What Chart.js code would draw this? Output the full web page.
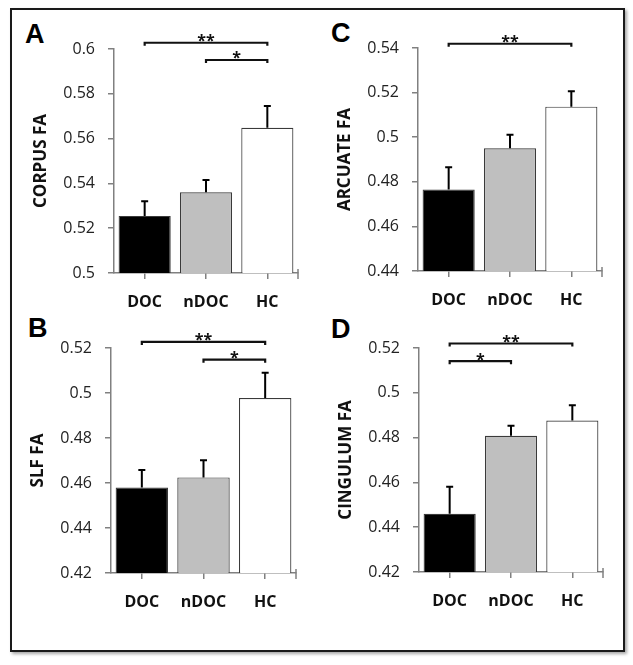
<!DOCTYPE html>
<html>
<head>
<meta charset="utf-8">
<script src="https://cdn.jsdelivr.net/npm/chart.js@4"></script>
<style>
body { margin: 0; background: #fff; }
#marco { position: absolute; left: 10px; top: 8px; width: 611px; height: 640px; border: 2px solid #1a1a1a; box-shadow: 2px 2px 3px rgba(0,0,0,.35); }
canvas { position: absolute; }
.letra { position: absolute; font: bold 27px "Liberation Sans", Arial, sans-serif; line-height: 27px; color: #000; }
</style>
</head>
<body>
<div id="marco"></div>
<div class="letra" style="left:25px;top:21px">A</div>
<div class="letra" style="left:331px;top:20px">C</div>
<div class="letra" style="left:28px;top:315px">B</div>
<div class="letra" style="left:331px;top:316px">D</div>
<canvas id="panelA"></canvas>
<canvas id="panelC"></canvas>
<canvas id="panelB"></canvas>
<canvas id="panelD"></canvas>
<script>
var grupos = ['DOC', 'nDOC', 'HC'];
var coloresBarras = ['#000000', '#bfbfbf', '#ffffff'];

// valores medios, error (solo hacia arriba) y comparaciones significativas
var corpusFA = [0.5255, 0.536, 0.5648];
var corpusErr = [0.0065, 0.0055, 0.0097];
var corpusSig = [[0, 2, 0.6028, '**'], [1, 2, 0.5951, '*']];

var arcuateFA = [0.4766, 0.495, 0.5137];
var arcuateErr = [0.0099, 0.0061, 0.0069];
var arcuateSig = [[0, 2, 0.5419, '**']];

var slfFA = [0.458, 0.4625, 0.4978];
var slfErr = [0.0078, 0.0076, 0.0112];
var slfSig = [[0, 2, 0.5227, '**'], [1, 2, 0.5148, '*']];

var cingulumFA = [0.446, 0.4808, 0.4876];
var cingulumErr = [0.0121, 0.0045, 0.0068];
var cingulumSig = [[0, 2, 0.522, '**'], [0, 1, 0.5141, '*']];

var paneles = [
    {id: 'panelA', titulo: 'CORPUS FA', min: 0.5, max: 0.6, valores: corpusFA, errores: corpusErr, sig: corpusSig,
        area: {left: 114, top: 49, right: 298, bottom: 273}},
    {id: 'panelC', titulo: 'ARCUATE FA', min: 0.44, max: 0.54, valores: arcuateFA, errores: arcuateErr, sig: arcuateSig,
        area: {left: 418, top: 48, right: 602, bottom: 271}},
    {id: 'panelB', titulo: 'SLF FA', min: 0.42, max: 0.52, valores: slfFA, errores: slfErr, sig: slfSig,
        area: {left: 111, top: 348, right: 296, bottom: 573}},
    {id: 'panelD', titulo: 'CINGULUM FA', min: 0.42, max: 0.52, valores: cingulumFA, errores: cingulumErr, sig: cingulumSig,
        area: {left: 419, top: 348, right: 603, bottom: 572}}
];

function pluginErrores(panel) {
    return {
        id: 'errores',
        afterDatasetsDraw: function (chart) {
            var ctx = chart.ctx, x = chart.scales.x, y = chart.scales.y;
            var meta = chart.getDatasetMeta(0);
            var ca = chart.chartArea;
            ctx.save();
            // barras de error
            ctx.strokeStyle = '#000';
            ctx.lineWidth = 2;
            meta.data.forEach(function (bar, i) {
                var yTop = y.getPixelForValue(panel.valores[i] + panel.errores[i]);
                ctx.beginPath();
                ctx.moveTo(bar.x, bar.y);
                ctx.lineTo(bar.x, yTop);
                ctx.moveTo(bar.x - 3.5, yTop);
                ctx.lineTo(bar.x + 3.5, yTop);
                ctx.stroke();
            });
            // marca final del eje x
            ctx.strokeStyle = '#808080';
            ctx.lineWidth = 1.5;
            ctx.beginPath();
            ctx.moveTo(ca.right, ca.bottom - 4);
            ctx.lineTo(ca.right, ca.bottom + 6);
            ctx.stroke();
            // llaves de significancia
            ctx.strokeStyle = '#111';
            ctx.fillStyle = '#111';
            ctx.lineWidth = 2.2;
            ctx.font = 'bold 16px "Open Sans"';
            ctx.textAlign = 'center';
            ctx.textBaseline = 'alphabetic';
            panel.sig.forEach(function (s) {
                var x1 = x.getPixelForValue(s[0]);
                var x2 = x.getPixelForValue(s[1]);
                var yy = y.getPixelForValue(s[2]);
                ctx.beginPath();
                ctx.moveTo(x1, yy + 3);
                ctx.lineTo(x1, yy);
                ctx.lineTo(x2, yy);
                ctx.lineTo(x2, yy + 3);
                ctx.stroke();
                ctx.fillText(s[3], (x1 + x2) / 2, yy + 3.5);
            });
            ctx.restore();
        }
    };
}

paneles.forEach(function (panel) {
    var a = panel.area;
    var canvas = document.getElementById(panel.id);
    canvas.width = a.right - a.left + 114;
    canvas.height = a.bottom - a.top + 90;
    canvas.style.left = (a.left - 100) + 'px';
    canvas.style.top = (a.top - 45) + 'px';

    new Chart(canvas, {
        type: 'bar',
        data: {
            labels: grupos,
            datasets: [{
                    data: panel.valores,
                    backgroundColor: coloresBarras,
                    borderColor: '#3a3a3a',
                    borderWidth: 1.2,
                    barPercentage: 0.85,
                    categoryPercentage: 1
                }]
        },
        options: {
            responsive: false,
            animation: false,
            layout: {padding: {top: 45, right: 14, left: 0, bottom: 0}},
            plugins: {legend: {display: false}, tooltip: {enabled: false}},
            scales: {
                x: {
                    grid: {offset: false, drawOnChartArea: false, tickLength: 6, color: '#808080', lineWidth: 1.5},
                    border: {color: '#808080', width: 1.5},
                    ticks: {padding: 14, color: '#111', font: {family: 'Open Sans', size: 16, weight: 'bold'}},
                    afterFit: function (s) { s.height = 45; }
                },
                y: {
                    min: panel.min,
                    max: panel.max,
                    ticks: {
                        stepSize: 0.02,
                        padding: 13,
                        color: '#222',
                        font: {family: 'Open Sans', size: 16},
                        callback: function (v) { return String(+v.toFixed(2)); }
                    },
                    grid: {drawOnChartArea: false, tickLength: 6, color: '#808080', lineWidth: 1.5},
                    border: {color: '#808080', width: 1.5},
                    title: {
                        display: true,
                        text: panel.titulo,
                        color: '#111',
                        font: {family: 'Open Sans', size: 17, weight: 'bold'},
                        padding: {top: 17, bottom: 0}
                    },
                    afterFit: function (s) { s.width = 100; }
                }
            }
        },
        plugins: [pluginErrores(panel)]
    });
});
</script>
</body>
</html>
